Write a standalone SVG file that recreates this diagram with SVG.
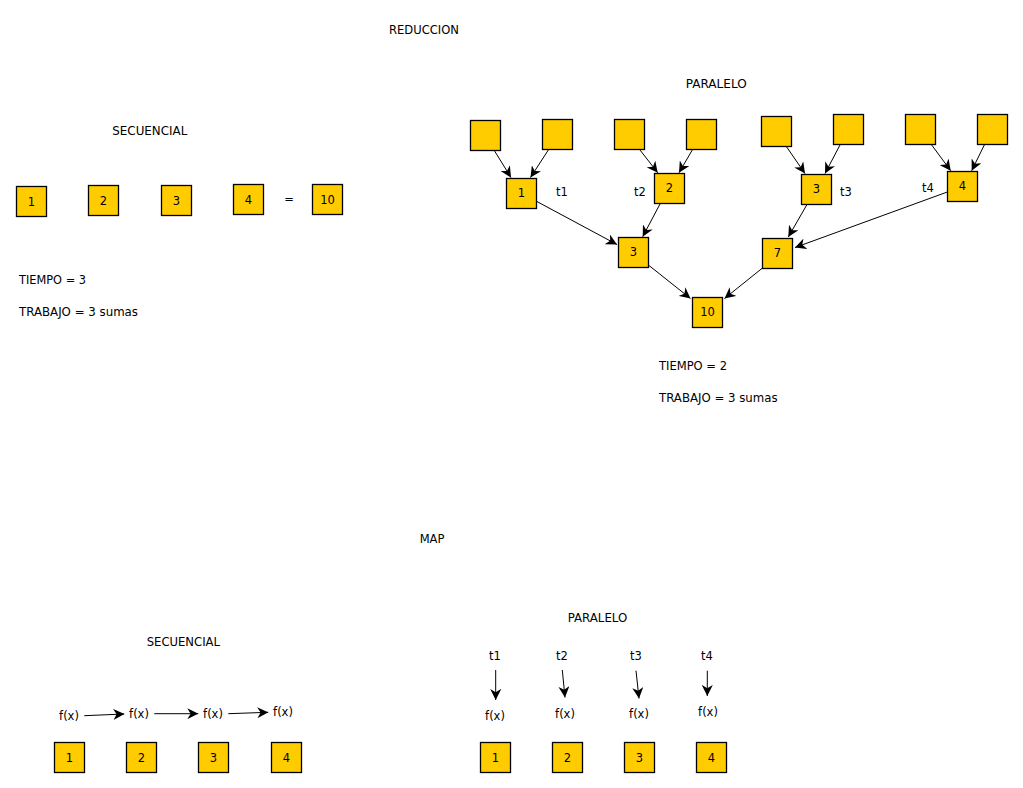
<svg xmlns="http://www.w3.org/2000/svg" width="1023" height="788" viewBox="0 0 1023 788">
<style>
.b{fill:#ffcc00;stroke:#000;stroke-width:1.3}
text{font-family:"DejaVu Sans",sans-serif;font-size:11.5px;fill:#000}
.c{text-anchor:middle}
.e line{stroke:#000;stroke-width:1;marker-end:url(#ah)}
</style>
<defs>
<marker id="ah" viewBox="0 0 10 10" refX="10" refY="5" markerWidth="11" markerHeight="11" markerUnits="userSpaceOnUse" orient="auto">
<path d="M0,0 L10,5 L0,10 L3,5 z" fill="#000"/>
</marker>
</defs>
<rect width="1023" height="788" fill="#fff"/>
<g id="titles">
<text x="389" y="34" textLength="70" lengthAdjust="spacingAndGlyphs">REDUCCION</text>
<text x="685.7" y="88" textLength="61" lengthAdjust="spacingAndGlyphs">PARALELO</text>
<text x="112.3" y="135" textLength="75" lengthAdjust="spacingAndGlyphs">SECUENCIAL</text>
<text x="19" y="284" textLength="67" lengthAdjust="spacingAndGlyphs">TIEMPO = 3</text>
<text x="19" y="316" textLength="119" lengthAdjust="spacingAndGlyphs">TRABAJO = 3 sumas</text>
<text x="659" y="370" textLength="68" lengthAdjust="spacingAndGlyphs">TIEMPO = 2</text>
<text x="659" y="402" textLength="118.5" lengthAdjust="spacingAndGlyphs">TRABAJO = 3 sumas</text>
<text class="c" x="432" y="543">MAP</text>
<text x="567.7" y="622" textLength="59.6" lengthAdjust="spacingAndGlyphs">PARALELO</text>
<text x="146.7" y="646" textLength="73.3" lengthAdjust="spacingAndGlyphs">SECUENCIAL</text>
</g>
<g id="seq-reduce">
<g id="s1"><rect class="b" x="16.5" y="186.5" width="30" height="30"/><text class="c" x="31.5" y="205.5">1</text></g>
<g id="s2"><rect class="b" x="88.5" y="185.5" width="30" height="30"/><text class="c" x="103.5" y="204.5">2</text></g>
<g id="s3"><rect class="b" x="161.5" y="185.5" width="30" height="30"/><text class="c" x="176.5" y="204.5">3</text></g>
<g id="s4"><rect class="b" x="233.5" y="184.5" width="30" height="30"/><text class="c" x="248.5" y="203.5">4</text></g>
<text class="c" x="289" y="203">=</text>
<g id="s10"><rect class="b" x="312.5" y="184.5" width="30" height="30"/><text class="c" x="327.5" y="203.5">10</text></g>
</g>
<g id="par-reduce">
<g id="p0a"><rect class="b" x="470.5" y="120.5" width="30" height="30"/></g>
<g id="p0b"><rect class="b" x="542.5" y="119.5" width="30" height="30"/></g>
<g id="p0c"><rect class="b" x="614.5" y="119.5" width="30" height="30"/></g>
<g id="p0d"><rect class="b" x="686.5" y="119.5" width="30" height="30"/></g>
<g id="p0e"><rect class="b" x="761.5" y="116.5" width="30" height="30"/></g>
<g id="p0f"><rect class="b" x="833.5" y="114.5" width="30" height="30"/></g>
<g id="p0g"><rect class="b" x="905.5" y="114.5" width="30" height="30"/></g>
<g id="p0h"><rect class="b" x="977.5" y="114.5" width="30" height="30"/></g>
<g id="p1"><rect class="b" x="506.5" y="178.5" width="30" height="30"/><text class="c" x="521.5" y="197">1</text></g>
<g id="p2"><rect class="b" x="654.5" y="173.5" width="30" height="30"/><text class="c" x="669.5" y="192">2</text></g>
<g id="p3"><rect class="b" x="801.5" y="174.5" width="30" height="30"/><text class="c" x="816.5" y="193">3</text></g>
<g id="p4"><rect class="b" x="947.5" y="171.5" width="30" height="30"/><text class="c" x="962.5" y="190">4</text></g>
<g id="q3"><rect class="b" x="618.5" y="237.5" width="30" height="30"/><text class="c" x="633.5" y="256">3</text></g>
<g id="q7"><rect class="b" x="762.5" y="238.5" width="30" height="30"/><text class="c" x="777.5" y="257">7</text></g>
<g id="r10"><rect class="b" x="692.5" y="297.5" width="30" height="30"/><text class="c" x="707.5" y="316">10</text></g>
<text class="c" x="562" y="196">t1</text>
<text class="c" x="640" y="196">t2</text>
<text class="c" x="846" y="196">t3</text>
<text class="c" x="928" y="192">t4</text>
</g>
<g id="seq-map">
<g id="m1"><rect class="b" x="54.5" y="742.5" width="30" height="30"/><text class="c" x="69.5" y="761.5">1</text></g>
<g id="m2"><rect class="b" x="126.5" y="742.5" width="30" height="30"/><text class="c" x="141.5" y="761.5">2</text></g>
<g id="m3"><rect class="b" x="198.5" y="742.5" width="30" height="30"/><text class="c" x="213.5" y="761.5">3</text></g>
<g id="m4"><rect class="b" x="271.5" y="742.5" width="30" height="30"/><text class="c" x="286.5" y="761.5">4</text></g>
<text class="c" x="69" y="720">f(x)</text>
<text class="c" x="139" y="718">f(x)</text>
<text class="c" x="213" y="718">f(x)</text>
<text class="c" x="283" y="716">f(x)</text>
</g>
<g id="par-map">
<g id="n1"><rect class="b" x="480.5" y="742.5" width="30" height="30"/><text class="c" x="495.5" y="761.5">1</text></g>
<g id="n2"><rect class="b" x="552.5" y="742.5" width="30" height="30"/><text class="c" x="567.5" y="761.5">2</text></g>
<g id="n3"><rect class="b" x="624.5" y="742.5" width="30" height="30"/><text class="c" x="639.5" y="761.5">3</text></g>
<g id="n4"><rect class="b" x="696.5" y="742.5" width="30" height="30"/><text class="c" x="711.5" y="761.5">4</text></g>
<text class="c" x="495" y="660">t1</text>
<text class="c" x="562" y="660">t2</text>
<text class="c" x="636" y="660">t3</text>
<text class="c" x="707" y="660">t4</text>
<text class="c" x="495" y="720">f(x)</text>
<text class="c" x="565" y="718">f(x)</text>
<text class="c" x="639" y="718">f(x)</text>
<text class="c" x="708" y="716">f(x)</text>
</g>
<g id="connectors" class="e">
<line x1="494.3" y1="150.5" x2="511" y2="177.5"/>
<line x1="548.3" y1="150" x2="530.5" y2="177.5"/>
<line x1="640" y1="150" x2="657.7" y2="172.7"/>
<line x1="692.3" y1="150" x2="679" y2="172.7"/>
<line x1="786.7" y1="147" x2="805" y2="173.5"/>
<line x1="840" y1="145" x2="825" y2="173.5"/>
<line x1="931.7" y1="145" x2="950.7" y2="170.7"/>
<line x1="984.3" y1="145" x2="971.7" y2="170.7"/>
<line x1="536.5" y1="201.3" x2="617" y2="244.5"/>
<line x1="660" y1="204" x2="642.7" y2="236.7"/>
<line x1="806.7" y1="205" x2="788.3" y2="237"/>
<line x1="947.3" y1="192" x2="795" y2="247.5"/>
<line x1="649" y1="265.5" x2="690.5" y2="298.5"/>
<line x1="762.5" y1="268" x2="724.5" y2="298.5"/>
<line x1="84.3" y1="715.7" x2="124.3" y2="714"/>
<line x1="154.3" y1="713.7" x2="198.3" y2="713.7"/>
<line x1="228.3" y1="713.7" x2="268.3" y2="712.3"/>
<line x1="495.7" y1="670" x2="495.7" y2="700"/>
<line x1="562.3" y1="670" x2="565" y2="697.5"/>
<line x1="636" y1="670.7" x2="639" y2="698.5"/>
<line x1="707.3" y1="670.7" x2="707.3" y2="696"/>
</g>
</svg>
